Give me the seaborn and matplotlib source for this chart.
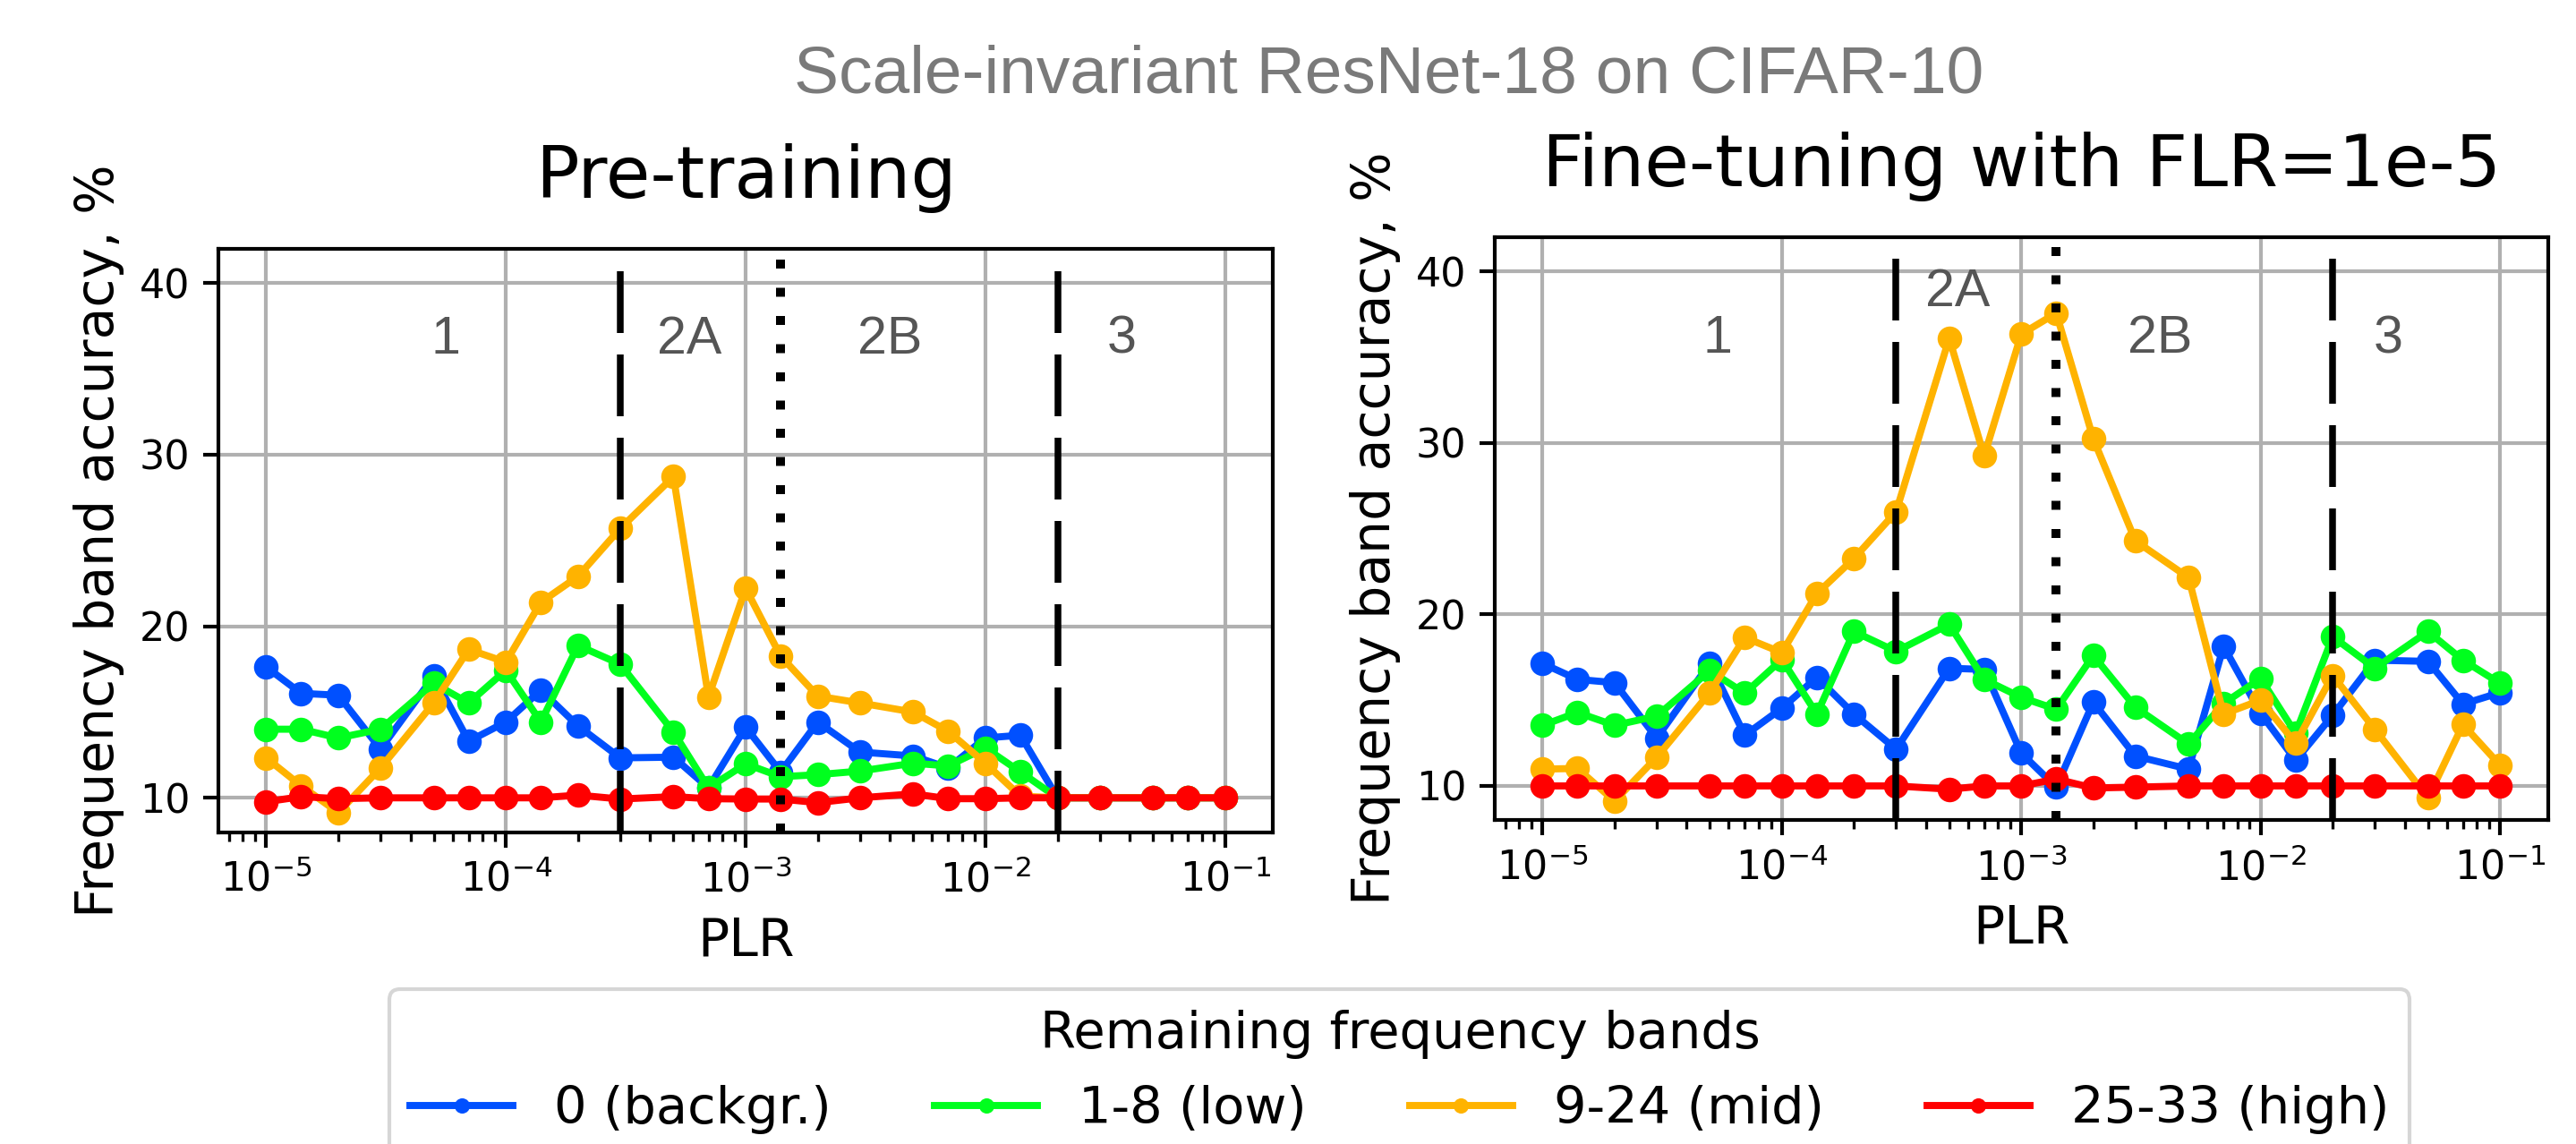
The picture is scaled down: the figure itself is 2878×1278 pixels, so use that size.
import numpy as np
import pandas as pd
import matplotlib
matplotlib.use("Agg")
import matplotlib.pyplot as plt
import seaborn as sns

# Peak learning rates used in the sweep
plr = [1e-5, 1.4e-5, 2e-5, 3e-5, 5e-5, 7e-5, 1e-4, 1.4e-4, 2e-4, 3e-4, 5e-4, 7e-4,
       1e-3, 1.4e-3, 2e-3, 3e-3, 5e-3, 7e-3, 1e-2, 1.4e-2, 2e-2, 3e-2, 5e-2, 7e-2, 1e-1]

band_labels = ["0 (backgr.)", "1-8 (low)", "9-24 (mid)", "25-33 (high)"]
band_colors = ["#0050ff", "#00ff1e", "#ffb300", "#ff0000"]

# Pre-training: accuracy (%) when only one frequency band is kept
pre_backgr = [17.63, 16.09, 15.98, 12.84, 17.09, 13.30, 14.42, 16.28, 14.19, 12.33, 12.37, 10.58,
              14.12, 11.50, 14.42, 12.67, 12.44, 11.74, 13.49, 13.65, 10.00, 10.00, 10.00, 10.00, 10.00]
pre_low = [14.00, 14.00, 13.49, 14.00, 16.67, 15.53, 17.44, 14.42, 18.88, 17.79, 13.84, 10.58,
           11.98, 11.23, 11.35, 11.56, 12.02, 11.86, 12.91, 11.51, 10.00, 10.00, 10.00, 10.00, 10.00]
pre_mid = [12.33, 10.70, 9.14, 11.74, 15.53, 18.65, 17.91, 21.40, 22.91, 25.70, 28.72, 15.88,
           22.21, 18.26, 15.93, 15.53, 15.00, 13.88, 12.02, 10.10, 10.00, 10.00, 10.00, 10.00, 10.00]
pre_high = [9.77, 10.07, 9.95, 10.00, 10.00, 10.00, 10.00, 10.00, 10.16, 9.93, 10.07, 9.95,
            9.93, 9.93, 9.72, 10.00, 10.23, 9.95, 9.95, 10.00, 10.00, 10.00, 10.00, 10.00, 10.00]

# Fine-tuning with FLR=1e-5
ft_backgr = [17.14, 16.21, 16.02, 12.79, 17.14, 12.95, 14.53, 16.33, 14.19, 12.14, 16.86, 16.79,
             11.91, 9.93, 14.88, 11.74, 10.98, 18.14, 14.23, 11.49, 14.12, 17.33, 17.26, 14.77, 15.44]
ft_low = [13.53, 14.28, 13.53, 14.07, 16.72, 15.40, 17.37, 14.19, 19.00, 17.84, 19.42, 16.21,
          15.16, 14.47, 17.60, 14.58, 12.44, 14.81, 16.26, 13.07, 18.70, 16.86, 19.00, 17.33, 15.98]
ft_mid = [10.98, 11.02, 9.12, 11.67, 15.44, 18.65, 17.77, 21.21, 23.26, 25.98, 36.09, 29.23,
          36.33, 37.56, 30.23, 24.28, 22.14, 14.19, 15.00, 12.49, 16.44, 13.30, 9.30, 13.58, 11.21]
ft_high = [10.00, 10.00, 10.00, 10.00, 10.00, 10.00, 10.00, 10.00, 10.00, 10.00, 9.81, 10.00,
           10.00, 10.40, 9.88, 9.93, 10.00, 10.00, 10.00, 10.00, 10.00, 10.00, 10.00, 10.00, 10.00]

# Regime boundaries and regime names
boundary_dashed = [3e-4, 2e-2]
boundary_dotted = [1.4e-3]
regime_names = ["1", "2A", "2B", "3"]
pre_regime_x = [5.6e-5, 5.8e-4, 4.0e-3, 3.7e-2]
pre_regime_y = [35.9, 35.9, 35.9, 35.9]
ft_regime_x = [5.4e-5, 5.4e-4, 3.8e-3, 3.4e-2]
ft_regime_y = [35.25, 37.95, 35.25, 35.25]

DPI = 300
fig = plt.figure(figsize=(2878 / DPI, 1278 / DPI), dpi=DPI)
ax_pre = fig.add_axes([0.0847, 0.2726, 0.4095, 0.5099])
ax_ft = fig.add_axes([0.5802, 0.2830, 0.4089, 0.5099])

palette = dict(zip(band_labels, band_colors))


def long_table(series):
    return pd.DataFrame({
        "PLR": np.tile(plr, len(series)),
        "acc": np.concatenate(series),
        "band": np.repeat(band_labels, len(plr)),
    })


def draw_panel(ax, series, title, rx, ry):
    sns.lineplot(data=long_table(series), x="PLR", y="acc", hue="band",
                 hue_order=band_labels, palette=palette, marker="o",
                 markersize=6.6, markeredgewidth=0, linewidth=1.9,
                 errorbar=None, legend=False, ax=ax)
    ax.set_xscale("log")
    ax.set_ylim(8, 42)
    ax.set_yticks([10, 20, 30, 40])
    ax.grid(True, which="major", color="#b0b0b0", linewidth=1.0)
    ax.set_axisbelow(True)
    for xv in boundary_dashed:
        ax.axvline(xv, color="black", linewidth=1.8, linestyle=(0, (9.2, 3.2)))
    for xv in boundary_dotted:
        ax.axvline(xv, color="black", linewidth=2.4, linestyle=(0, (1.0, 2.15)))
    for name, xv, yv in zip(regime_names, rx, ry):
        ax.text(xv, yv, name, ha="center", va="baseline", fontsize=14.2,
                color="#555555", family="Liberation Sans")
    ax.set_title(title, fontsize=19.4, pad=13.7)
    ax.set_xlabel("PLR", fontsize=14)
    ax.set_ylabel("Frequency band accuracy, %", fontsize=14)
    ax.tick_params(which="major", labelsize=10.7, length=4, width=1.0)
    ax.tick_params(which="minor", length=2.3, width=0.8)
    for sp in ax.spines.values():
        sp.set_linewidth(1.0)
        sp.set_color("black")


draw_panel(ax_pre, [pre_backgr, pre_low, pre_mid, pre_high], "Pre-training",
           pre_regime_x, pre_regime_y)
draw_panel(ax_ft, [ft_backgr, ft_low, ft_mid, ft_high], "Fine-tuning with FLR=1e-5",
           ft_regime_x, ft_regime_y)

fig.text(0.539, 1 - 103 / 1278, "Scale-invariant ResNet-18 on CIFAR-10",
         ha="center", va="baseline", fontsize=18, color="#7a7a7a",
         family="Liberation Sans")

handles = ax_pre.get_lines()[:4]
fig.legend(handles, band_labels, loc="upper center",
           bbox_to_anchor=(0.5434, 1 - 1105 / 1278), borderaxespad=0,
           ncol=4, title="Remaining frequency bands", fontsize=13.8,
           title_fontsize=13.8, markerscale=0.62, frameon=True)

fig.savefig("out.png", dpi=DPI)
